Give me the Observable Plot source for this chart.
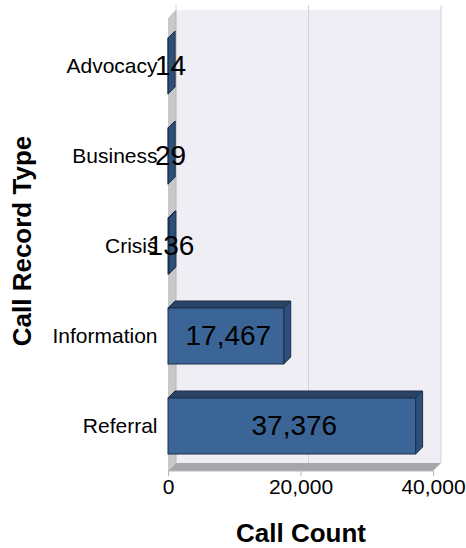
<!DOCTYPE html>
<html>
<head>
<meta charset="utf-8">
<script src="https://cdn.jsdelivr.net/npm/d3@7"></script>
<script src="https://cdn.jsdelivr.net/npm/@observablehq/plot@0.6"></script>
<style>
  html, body { margin: 0; padding: 0; background: #fff; }
  #chart { width: 466px; height: 548px; }
</style>
</head>
<body>
<div id="chart"></div>
<script>
const categories = ["Advocacy", "Business", "Crisis", "Information", "Referral"];
const counts = [14, 29, 136, 17467, 37376];
const xTicks = [0, 20000, 40000];
const xTitle = "Call Count";
const yTitle = "Call Record Type";

const data = categories.map((c, i) => ({cat: c, value: counts[i]}));
const fmt = d3.format(",");
const D = 8;   // depth of the walls (px)
const d = 7;   // depth of the bars (px)
const NS = "http://www.w3.org/2000/svg";

function poly(g, pts, fill, stroke) {
  const p = document.createElementNS(NS, "polygon");
  p.setAttribute("points", pts.map(q => q.join(",")).join(" "));
  p.setAttribute("fill", fill);
  if (stroke) { p.setAttribute("stroke", stroke); p.setAttribute("stroke-width", 1); p.setAttribute("stroke-linejoin", "round"); }
  else p.setAttribute("stroke", "none");
  g.appendChild(p);
}
function line(g, x1, y1, x2, y2, stroke) {
  const l = document.createElementNS(NS, "line");
  l.setAttribute("x1", x1); l.setAttribute("y1", y1);
  l.setAttribute("x2", x2); l.setAttribute("y2", y2);
  l.setAttribute("stroke", stroke);
  g.appendChild(l);
}

// Walls, floor and gridlines of the 3D frame
function walls(index, scales, values, dims) {
  const x = scales.x;
  const g = document.createElementNS(NS, "g");
  const x0 = x(xTicks[0]), x1 = x(xTicks[xTicks.length - 1]);
  const yb = dims.height - dims.marginBottom;
  const yt = dims.marginTop - 10;
  // back wall
  poly(g, [[x0 + D, yt], [x1 + D, yt], [x1 + D, yb - D], [x0 + D, yb - D]], "#efeef4");
  // gridlines on back wall
  for (const t of xTicks.slice(1)) line(g, x(t) + D, yt - 5, x(t) + D, yb - D, "#d2d2dc");
  line(g, x0 + D, yt - 5, x0 + D, yt, "#d2d2dc");
  // left wall
  poly(g, [[x0, yt + D], [x0 + D, yt], [x0 + D, yb - D], [x0, yb]], "#c8c8ca");
  line(g, x0 + D, yt, x0 + D, yb - D, "#b4b4b8");
  // floor
  poly(g, [[x0, yb], [x1, yb], [x1 + D, yb - D], [x0 + D, yb - D]], "#a6a6a8");
  line(g, x0, yb, x1, yb, "#b8b8c6");
  return g;
}

// Top and right faces of the 3D bars
function barSides(index, scales) {
  const x = scales.x, y = scales.y;
  const bw = y.bandwidth();
  const g = document.createElementNS(NS, "g");
  for (const r of data) {
    const x0 = x(0), xf = x(r.value), yTop = y(r.cat), yBot = yTop + bw;
    poly(g, [[x0, yTop], [xf, yTop], [xf + d, yTop - d], [x0 + d, yTop - d]], "#284363", "#1c2f48");
    poly(g, [[xf, yTop], [xf + d, yTop - d], [xf + d, yBot - d], [xf, yBot]], "#2e4f77", "#1c2f48");
  }
  return g;
}

const chart = Plot.plot({
  width: 466,
  height: 548,
  marginLeft: 168,
  marginRight: 33,
  marginTop: 20,
  marginBottom: 77,
  style: {fontFamily: "'Liberation Sans', Arial, sans-serif", background: "#fff", color: "#000"},
  x: {domain: [xTicks[0], xTicks[xTicks.length - 1]]},
  y: {domain: categories, paddingInner: 0.38, paddingOuter: 0.19},
  marks: [
    walls,
    barSides,
    Plot.barX(data, {x: "value", y: "cat", fill: "#3b6597", stroke: "#1c2f48", strokeWidth: 1, insetTop: 0, insetBottom: 0}),
    Plot.axisX({ticks: xTicks, tickFormat: fmt, tickSize: 5, tickPadding: 3, fontSize: 21, stroke: "#b4b4c4", fill: "#000", label: null}),
    Plot.axisY({tickSize: 0, tickPadding: 11, fontSize: 21, fill: "#000", label: null}),
    Plot.text(data, {x: r => r.value / 2, y: "cat", text: r => fmt(r.value), dx: 2, fontSize: 28, fill: "#000"}),
    Plot.text([xTitle], {frameAnchor: "bottom", dy: 62, textAnchor: "middle", lineAnchor: "middle", fontSize: 26, fontWeight: "bold", fill: "#000"}),
    Plot.text([yTitle], {frameAnchor: "left", dx: -146, dy: -5, rotate: -90, textAnchor: "middle", lineAnchor: "middle", fontSize: 26, fontWeight: "bold", fill: "#000"})
  ]
});
document.getElementById("chart").appendChild(chart);
</script>
</body>
</html>
